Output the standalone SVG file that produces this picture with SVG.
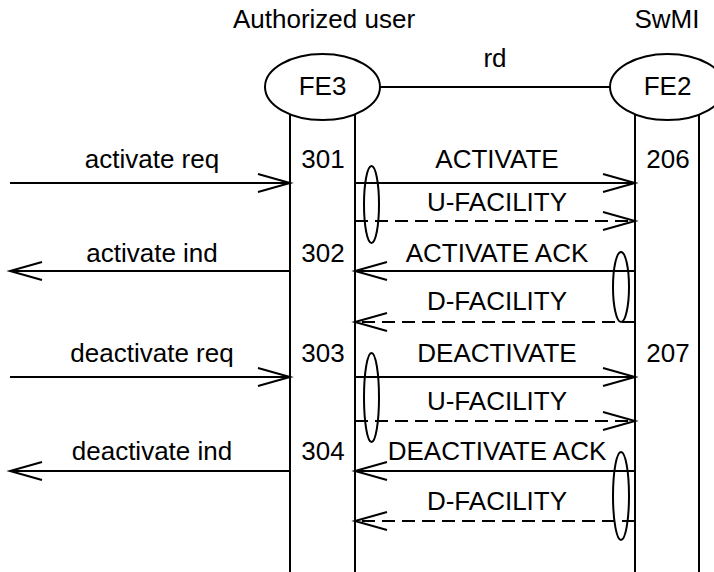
<svg xmlns="http://www.w3.org/2000/svg" width="714" height="572" viewBox="0 0 714 572">
<style>
text{font-family:"Liberation Sans",Arial,sans-serif;font-size:26px;fill:#000;text-anchor:middle}
.l{stroke:#000;stroke-width:2;fill:none}
.d{stroke:#000;stroke-width:2;fill:none;stroke-dasharray:13 7}
</style>
<defs>
<marker id="ah" markerUnits="userSpaceOnUse" markerWidth="40" markerHeight="24" refX="33" refY="10" orient="auto" viewBox="0 0 40 24">
<path d="M1,1 L33,10 L1,19" fill="none" stroke="#000" stroke-width="2"/>
</marker>
</defs>
<rect width="714" height="572" fill="#fff"/>
<text x="324" y="28">Authorized user</text>
<text x="667" y="28">SwMI</text>
<g id="FE3">
<ellipse cx="322.5" cy="87" rx="57.5" ry="33" class="l"/>
<text x="322.5" y="95">FE3</text>
<line x1="290" y1="114" x2="290" y2="572" class="l"/>
<line x1="355" y1="114" x2="355" y2="572" class="l"/>
</g>
<g id="FE2">
<ellipse cx="667.5" cy="87" rx="57.5" ry="33" class="l"/>
<text x="667.5" y="95">FE2</text>
<line x1="635" y1="114" x2="635" y2="572" class="l"/>
<line x1="699" y1="114" x2="699" y2="572" class="l"/>
</g>
<g id="connectors">
<line x1="380" y1="87" x2="610" y2="87" class="l"/>
<text x="495" y="67">rd</text>
<line x1="10" y1="183" x2="290" y2="183" class="l" marker-end="url(#ah)"/>
<line x1="290" y1="271" x2="10" y2="271" class="l" marker-end="url(#ah)"/>
<line x1="10" y1="377" x2="290" y2="377" class="l" marker-end="url(#ah)"/>
<line x1="290" y1="471" x2="10" y2="471" class="l" marker-end="url(#ah)"/>
<line x1="355" y1="183" x2="635" y2="183" class="l" marker-end="url(#ah)"/>
<line x1="355" y1="221" x2="635" y2="221" class="d" marker-end="url(#ah)"/>
<line x1="635" y1="271" x2="355" y2="271" class="l" marker-end="url(#ah)"/>
<line x1="635" y1="322" x2="355" y2="322" class="d" marker-end="url(#ah)"/>
<line x1="355" y1="377" x2="635" y2="377" class="l" marker-end="url(#ah)"/>
<line x1="355" y1="421" x2="635" y2="421" class="d" marker-end="url(#ah)"/>
<line x1="635" y1="471" x2="355" y2="471" class="l" marker-end="url(#ah)"/>
<line x1="635" y1="521" x2="355" y2="521" class="d" marker-end="url(#ah)"/>
<ellipse cx="371.5" cy="204.5" rx="7.5" ry="38.5" class="l"/>
<ellipse cx="621" cy="287" rx="8" ry="35" class="l"/>
<ellipse cx="371.5" cy="397.5" rx="7.5" ry="44.5" class="l"/>
<ellipse cx="621" cy="496" rx="8" ry="44" class="l"/>
</g>
<g id="labels">
<text x="152" y="168">activate req</text>
<text x="152" y="262">activate ind</text>
<text x="152" y="362">deactivate req</text>
<text x="152" y="460">deactivate ind</text>
<text x="323" y="168">301</text>
<text x="323" y="262">302</text>
<text x="323" y="362">303</text>
<text x="323" y="460">304</text>
<text x="668" y="168">206</text>
<text x="668" y="362">207</text>
<text x="497" y="168">ACTIVATE</text>
<text x="497" y="211">U-FACILITY</text>
<text x="497" y="262">ACTIVATE ACK</text>
<text x="497" y="310">D-FACILITY</text>
<text x="497" y="362">DEACTIVATE</text>
<text x="497" y="410">U-FACILITY</text>
<text x="497" y="460">DEACTIVATE ACK</text>
<text x="497" y="510">D-FACILITY</text>
</g>
</svg>
